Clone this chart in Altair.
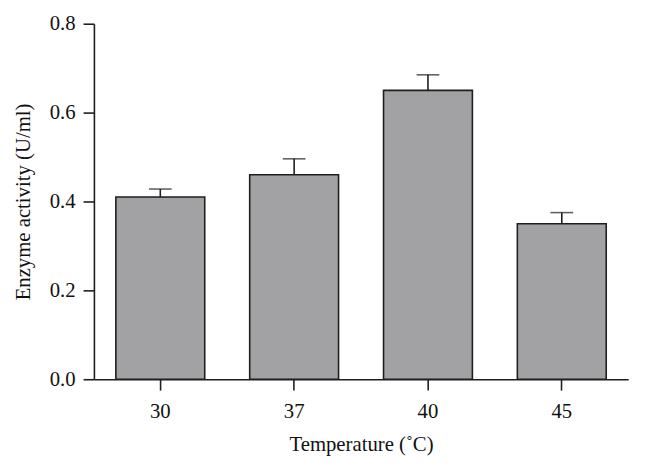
import altair as alt
import pandas as pd

temps = ["30", "37", "40", "45"]
activity = [0.41, 0.46, 0.65, 0.35]
errors = [0.018, 0.036, 0.035, 0.025]

df = pd.DataFrame({
    "temp": temps,
    "activity": activity,
    "upper": [a + e for a, e in zip(activity, errors)],
})

FONT = "Liberation Serif"
INK = "#1e1e1e"

x = alt.X(
    "temp:N",
    sort=temps,
    scale=alt.Scale(paddingInner=0.336, paddingOuter=0.164),
    axis=alt.Axis(
        title="Temperature (˚C)",
        labelAngle=0,
        tickSize=11,
        labelPadding=11,
        titlePadding=12,
    ),
)

y_axis = alt.Axis(
    title="Enzyme activity (U/ml)",
    values=[0, 0.2, 0.4, 0.6, 0.8],
    format=".1f",
    tickSize=11,
    labelPadding=8,
    titlePadding=16,
    grid=False,
)

bars = alt.Chart(df).mark_bar(
    fill="#a2a2a4", stroke=INK, strokeWidth=1.6
).encode(
    x=x,
    y=alt.Y("activity:Q", scale=alt.Scale(domain=[0, 0.8]), axis=y_axis),
)

stem = alt.Chart(df).mark_rule(color=INK, strokeWidth=1.6).encode(
    x=alt.X("temp:N", sort=temps),
    y="activity:Q",
    y2="upper:Q",
)

cap = alt.Chart(df).mark_tick(
    color=INK, size=23, thickness=1.6, orient="horizontal"
).encode(
    x=alt.X("temp:N", sort=temps),
    y="upper:Q",
)

chart = alt.layer(bars, stem, cap).properties(
    width=541,
    height=360,
    autosize=alt.AutoSizeParams(type="none"),
    padding={"left": 87, "top": 13, "right": 14, "bottom": 90},
).configure_view(stroke=None).configure_axis(
    domainColor=INK,
    tickColor=INK,
    domainWidth=1.6,
    tickWidth=1.6,
    labelFont=FONT,
    titleFont=FONT,
    labelFontSize=21,
    titleFontSize=21,
    labelColor="#111111",
    titleColor="#111111",
    titleFontWeight="normal",
)

chart.save("out.html", embed_options={"renderer": "svg", "actions": False})
